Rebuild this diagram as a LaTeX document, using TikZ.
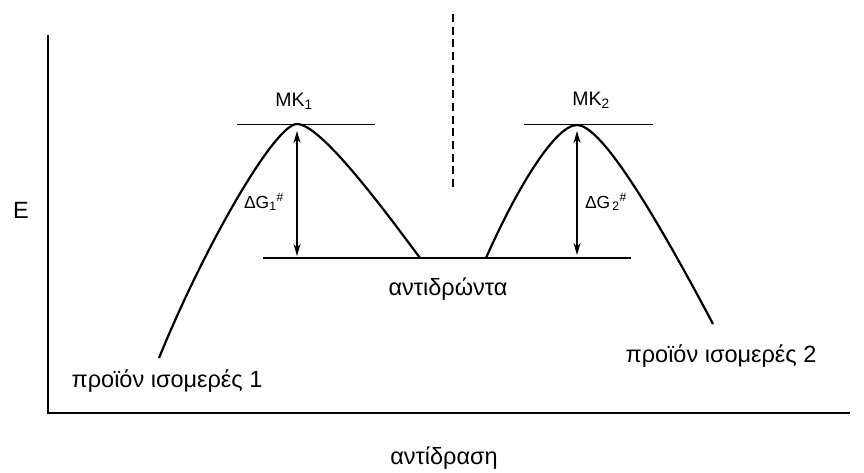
\documentclass[tikz,border=0pt]{standalone}
\usepackage{fontspec}
\setmainfont{Liberation Sans}
\usetikzlibrary{arrows.meta}
\tikzset{
  curve/.style={line width=2.2pt},
  axisline/.style={line width=1.8pt},
  level/.style={line width=1.8pt},
  tslevel/.style={line width=1pt},
  dgarrow/.style={line width=1.8pt,{Stealth[length=12pt,width=7pt]}-{Stealth[length=12pt,width=7pt]}},
  biglabel/.style={font=\fontsize{23.5}{26}\selectfont,inner sep=0pt},
  mklabel/.style={font=\fontsize{19.5}{22}\selectfont,inner sep=0pt},
  dglabel/.style={font=\fontsize{17.5}{20}\selectfont,inner sep=0pt}
}
\begin{document}
\begin{tikzpicture}[x=1pt,y=-1pt]
\useasboundingbox (0,0) rectangle (864,472);
% axes
\coordinate (ytop) at (48,35);
\coordinate (origin) at (48,413);
\coordinate (xend) at (850,413);
\draw[axisline] (ytop) -- (origin) -- (xend);
% dashed separator
\coordinate (dtop) at (453,14);
\coordinate (dbot) at (453,190);
\draw[line width=1.8pt,dash pattern=on 8pt off 4.7pt] (dtop) -- (dbot);
% reactant level
\coordinate (rl) at (263,258);
\coordinate (rr) at (631,258);
\draw[level] (rl) -- (rr);
% transition state levels
\coordinate (m1l) at (237,124);
\coordinate (m1r) at (375,124);
\coordinate (m2l) at (524,124);
\coordinate (m2r) at (653,124);
\draw[tslevel] (m1l) -- (m1r);
\draw[tslevel] (m2l) -- (m2r);
% curves
\coordinate (p1) at (159,358);
\coordinate (top1) at (297,124);
\coordinate (e1) at (420,258);
\coordinate (s2) at (486,258);
\coordinate (top2) at (577,125);
\coordinate (p2) at (713,324);
\draw[curve] (p1) .. controls (205,245) and (275,124) .. (top1)
  .. controls (320,124) and (380,204) .. (e1);
\draw[curve] (s2) .. controls (516,190) and (555,125) .. (top2)
  .. controls (600,125) and (650,205) .. (p2);
% activation arrows
\coordinate (a1t) at (297,131);
\coordinate (a1b) at (297,256);
\coordinate (a2t) at (577,131);
\coordinate (a2b) at (577,255);
\draw[dgarrow] (a1t) -- (a1b);
\draw[dgarrow] (a2t) -- (a2b);
% labels
\node[biglabel] (E) at (21,210) {E};
\node[mklabel] (mk1) at (294,101) {MK\textsubscript{1}};
\node[mklabel] (mk2) at (591,100) {MK\textsubscript{2}};
\node[dglabel] (dg1) at (264,202) {ΔG\textsubscript{1}\textsuperscript{\#}};
\node[dglabel] (dg2) at (606,202) {ΔG\textsubscript{\,2}\textsuperscript{\#}};
\node[biglabel] (react) at (448,289) {αντιδρώντα};
\node[biglabel] (prod1) at (167,381) {προϊόν ισομερές 1};
\node[biglabel] (prod2) at (721,356) {προϊόν ισομερές 2};
\node[biglabel] (xlab) at (444,458) {αντίδραση};
\end{tikzpicture}
\end{document}
